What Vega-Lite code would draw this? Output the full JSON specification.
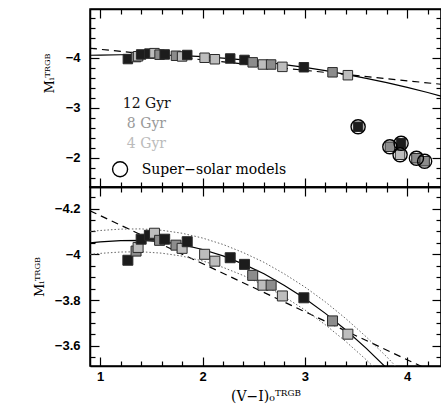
{
  "$schema": "https://vega.github.io/schema/vega-lite/v6.json",
  "padding": {"left": 32, "top": 7, "right": 0, "bottom": 0},
  "autosize": {"type": "pad"},
  "spacing": 0,
  "bounds": "flush",
  "datasets": {
    "pts": [
      {"x": 1.27, "y": -3.974, "age": "12 Gyr"},
      {"x": 1.35, "y": -4.014, "age": "8 Gyr"},
      {"x": 1.37, "y": -4.03, "age": "4 Gyr"},
      {"x": 1.40, "y": -4.066, "age": "12 Gyr"},
      {"x": 1.48, "y": -4.083, "age": "12 Gyr"},
      {"x": 1.53, "y": -4.092, "age": "4 Gyr"},
      {"x": 1.58, "y": -4.061, "age": "8 Gyr"},
      {"x": 1.63, "y": -4.066, "age": "12 Gyr"},
      {"x": 1.74, "y": -4.04, "age": "8 Gyr"},
      {"x": 1.80, "y": -4.026, "age": "4 Gyr"},
      {"x": 1.85, "y": -4.055, "age": "12 Gyr"},
      {"x": 2.02, "y": -4.0, "age": "4 Gyr"},
      {"x": 2.12, "y": -3.97, "age": "4 Gyr"},
      {"x": 2.27, "y": -3.985, "age": "12 Gyr"},
      {"x": 2.41, "y": -3.956, "age": "12 Gyr"},
      {"x": 2.49, "y": -3.908, "age": "8 Gyr"},
      {"x": 2.59, "y": -3.865, "age": "4 Gyr"},
      {"x": 2.67, "y": -3.865, "age": "8 Gyr"},
      {"x": 2.78, "y": -3.818, "age": "4 Gyr"},
      {"x": 2.99, "y": -3.81, "age": "12 Gyr"},
      {"x": 3.27, "y": -3.709, "age": "8 Gyr"},
      {"x": 3.42, "y": -3.651, "age": "4 Gyr"}
    ],
    "ss": [
      {"x": 3.52, "y": -2.62, "age": "12 Gyr"},
      {"x": 3.83, "y": -2.22, "age": "8 Gyr"},
      {"x": 3.93, "y": -2.06, "age": "4 Gyr"},
      {"x": 3.94, "y": -2.29, "age": "12 Gyr"},
      {"x": 4.09, "y": -1.99, "age": "8 Gyr"},
      {"x": 4.17, "y": -1.93, "age": "8 Gyr"}
    ],
    "dash": [
      {"x": 0.9, "y": -4.19},
      {"x": 4.33, "y": -3.47}
    ],
    "solid": [
      {"x": 0.9, "y": -4.05}, {"x": 1.0, "y": -4.054}, {"x": 1.2, "y": -4.06}, {"x": 1.4, "y": -4.061},
      {"x": 1.6, "y": -4.055}, {"x": 1.8, "y": -4.042}, {"x": 2.0, "y": -4.021}, {"x": 2.2, "y": -3.993},
      {"x": 2.4, "y": -3.957}, {"x": 2.6, "y": -3.915}, {"x": 2.8, "y": -3.864}, {"x": 3.0, "y": -3.807},
      {"x": 3.2, "y": -3.742}, {"x": 3.4, "y": -3.669}, {"x": 3.6, "y": -3.589}, {"x": 3.8, "y": -3.502},
      {"x": 4.0, "y": -3.407}, {"x": 4.2, "y": -3.305}, {"x": 4.33, "y": -3.234}
    ],
    "dotUp": [
      {"x": 0.9, "y": -4.10}, {"x": 1.0, "y": -4.104}, {"x": 1.2, "y": -4.11}, {"x": 1.4, "y": -4.111},
      {"x": 1.6, "y": -4.105}, {"x": 1.8, "y": -4.092}, {"x": 2.0, "y": -4.071}, {"x": 2.2, "y": -4.043},
      {"x": 2.4, "y": -4.007}, {"x": 2.6, "y": -3.965}, {"x": 2.8, "y": -3.914}, {"x": 3.0, "y": -3.857},
      {"x": 3.2, "y": -3.792}, {"x": 3.4, "y": -3.719}, {"x": 3.6, "y": -3.639}, {"x": 3.8, "y": -3.552},
      {"x": 4.0, "y": -3.457}, {"x": 4.2, "y": -3.355}
    ],
    "dotLo": [
      {"x": 0.9, "y": -4.00}, {"x": 1.0, "y": -4.004}, {"x": 1.2, "y": -4.01}, {"x": 1.4, "y": -4.011},
      {"x": 1.6, "y": -4.005}, {"x": 1.8, "y": -3.992}, {"x": 2.0, "y": -3.971}, {"x": 2.2, "y": -3.943},
      {"x": 2.4, "y": -3.907}, {"x": 2.6, "y": -3.865}, {"x": 2.8, "y": -3.814}, {"x": 3.0, "y": -3.757},
      {"x": 3.2, "y": -3.692}, {"x": 3.4, "y": -3.619}, {"x": 3.6, "y": -3.539}, {"x": 3.8, "y": -3.452},
      {"x": 4.0, "y": -3.357}
    ],
    "legAge": [
      {"x": 1.22, "y": -2.99, "label": "12 Gyr", "age": "12 Gyr"},
      {"x": 1.26, "y": -2.59, "label": "8 Gyr", "age": "8 Gyr"},
      {"x": 1.26, "y": -2.20, "label": "4 Gyr", "age": "4 Gyr"}
    ],
    "legSS": [
      {"cx": 1.194, "cy": -1.77, "x": 1.405, "y": -1.67, "label": "Super\u2212solar models"}
    ]
  },
  "config": {
    "view": {"stroke": "#000", "strokeWidth": 1.5},
    "axis": {
      "domainColor": "#000", "domainWidth": 1.5, "tickColor": "#000", "tickWidth": 1.2, "grid": false,
      "labelFont": "Liberation Sans", "labelFontWeight": "bold", "labelFontSize": 13, "labelColor": "#000",
      "labelOverlap": false, "labelFlush": false,
      "titleFont": "DejaVu Serif", "titleFontWeight": "normal", "titleFontSize": 13, "titleColor": "#000"
    },
    "text": {"font": "DejaVu Serif", "fontWeight": "normal", "fontSize": 14}
  },
  "vconcat": [
    {
      "width": 351, "height": 178,
      "resolve": {"axis": {"x": "independent", "y": "independent"}},
      "layer": [
        {
          "data": {"name": "dash"},
          "mark": {"type": "line", "color": "#000", "strokeWidth": 1.2, "strokeDash": [7, 5], "clip": true},
          "encoding": {
            "x": {"field": "x", "type": "quantitative", "scale": {"domain": [0.9, 4.33], "nice": false, "zero": false},
              "axis": {"orient": "bottom", "values": [1,1.2,1.4,1.6,1.8,2,2.2,2.4,2.6,2.8,3,3.2,3.4,3.6,3.8,4,4.2], "labels": false, "title": null,
                "tickSize": {"condition": {"test": "datum.value % 1 === 0", "value": -9}, "value": -5}}},
            "y": {"field": "y", "type": "quantitative", "scale": {"domain": [-4.975, -1.415], "reverse": true, "nice": false, "zero": false},
              "axis": {"orient": "left", "values": [-4.8,-4.6,-4.4,-4.2,-4,-3.8,-3.6,-3.4,-3.2,-3,-2.8,-2.6,-2.4,-2.2,-2,-1.8,-1.6],
                "labelExpr": "datum.value % 1 === 0 ? replace(format(datum.value, 'd'), '-', '\u2212') : ''",
                "tickSize": {"condition": {"test": "datum.value % 1 === 0", "value": -9}, "value": -5},
                "labelPadding": 19, "title": "M\u1d62\u1d40\u1d3f\u1d33\u1d2e", "titlePadding": 9, "titleY": 64}}
          }
        },
        {
          "data": {"name": "solid"},
          "mark": {"type": "line", "color": "#000", "strokeWidth": 1.2, "clip": true},
          "encoding": {
            "x": {"field": "x", "type": "quantitative",
              "axis": {"orient": "top", "values": [1,1.2,1.4,1.6,1.8,2,2.2,2.4,2.6,2.8,3,3.2,3.4,3.6,3.8,4,4.2], "labels": false, "title": null,
                "tickSize": {"condition": {"test": "datum.value % 1 === 0", "value": -9}, "value": -5}}},
            "y": {"field": "y", "type": "quantitative",
              "axis": {"orient": "right", "values": [-4.8,-4.6,-4.4,-4.2,-4,-3.8,-3.6,-3.4,-3.2,-3,-2.8,-2.6,-2.4,-2.2,-2,-1.8,-1.6], "labels": false, "title": null,
                "tickSize": {"condition": {"test": "datum.value % 1 === 0", "value": -9}, "value": -5}}}
          }
        },
        {
          "data": {"name": "pts"},
          "mark": {"type": "point", "shape": "square", "filled": true, "size": 90, "stroke": "#2a2a2a", "strokeWidth": 1, "opacity": 1},
          "encoding": {
            "x": {"field": "x", "type": "quantitative", "axis": null},
            "y": {"field": "y", "type": "quantitative", "axis": null},
            "fill": {"field": "age", "type": "nominal", "scale": {"domain": ["12 Gyr", "8 Gyr", "4 Gyr"], "range": ["#1c1c1c", "#8c8c8c", "#bdbdbd"]}, "legend": null}
          }
        },
        {
          "data": {"name": "ss"},
          "mark": {"type": "point", "shape": "square", "filled": true, "size": 90, "stroke": "#2a2a2a", "strokeWidth": 1, "opacity": 1},
          "encoding": {
            "x": {"field": "x", "type": "quantitative", "axis": null},
            "y": {"field": "y", "type": "quantitative", "axis": null},
            "fill": {"field": "age", "type": "nominal", "legend": null}
          }
        },
        {
          "data": {"name": "ss"},
          "mark": {"type": "point", "shape": "circle", "filled": false, "size": 200, "stroke": "#000", "strokeWidth": 1.4, "opacity": 1},
          "encoding": {
            "x": {"field": "x", "type": "quantitative", "axis": null},
            "y": {"field": "y", "type": "quantitative", "axis": null}
          }
        },
        {
          "data": {"name": "legAge"},
          "mark": {"type": "text", "align": "left", "baseline": "alphabetic"},
          "encoding": {
            "x": {"field": "x", "type": "quantitative", "axis": null},
            "y": {"field": "y", "type": "quantitative", "axis": null},
            "text": {"field": "label"},
            "color": {"field": "age", "type": "nominal", "scale": {"domain": ["12 Gyr", "8 Gyr", "4 Gyr"], "range": ["#111111", "#999999", "#bbbbbb"]}, "legend": null}
          }
        },
        {
          "data": {"name": "legSS"},
          "mark": {"type": "text", "align": "left", "baseline": "alphabetic", "color": "#000"},
          "encoding": {
            "x": {"field": "x", "type": "quantitative", "axis": null},
            "y": {"field": "y", "type": "quantitative", "axis": null},
            "text": {"field": "label"}
          }
        },
        {
          "data": {"name": "legSS"},
          "mark": {"type": "point", "shape": "circle", "filled": false, "size": 225, "stroke": "#000", "strokeWidth": 1.4, "opacity": 1},
          "encoding": {
            "x": {"field": "cx", "type": "quantitative", "axis": null},
            "y": {"field": "cy", "type": "quantitative", "axis": null}
          }
        }
      ]
    },
    {
      "width": 351, "height": 179,
      "resolve": {"axis": {"x": "independent", "y": "independent"}},
      "layer": [
        {
          "data": {"name": "dash"},
          "mark": {"type": "line", "color": "#000", "strokeWidth": 1.2, "strokeDash": [7, 5], "clip": true},
          "encoding": {
            "x": {"field": "x", "type": "quantitative", "scale": {"domain": [0.9, 4.33], "nice": false, "zero": false},
              "axis": {"orient": "bottom", "values": [1,1.2,1.4,1.6,1.8,2,2.2,2.4,2.6,2.8,3,3.2,3.4,3.6,3.8,4,4.2],
                "labelExpr": "datum.value % 1 === 0 ? format(datum.value, 'd') : ''",
                "tickSize": {"condition": {"test": "datum.value % 1 === 0", "value": -9}, "value": -5},
                "labelPadding": 13, "title": "(V\u2212I)\u2080\u1d40\u1d3f\u1d33\u1d2e", "titlePadding": 2, "titleFontSize": 14}},
            "y": {"field": "y", "type": "quantitative", "scale": {"domain": [-4.294, -3.512], "reverse": true, "nice": false, "zero": false},
              "axis": {"orient": "left", "values": [-4.25,-4.2,-4.15,-4.1,-4.05,-4,-3.95,-3.9,-3.85,-3.8,-3.75,-3.7,-3.65,-3.6,-3.55],
                "labelExpr": "abs(round(datum.value * 100)) % 20 === 0 ? replace(format(datum.value, '~g'), '-', '\u2212') : ''",
                "tickSize": {"condition": {"test": "abs(round(datum.value * 100)) % 20 === 0", "value": -9}, "value": -5},
                "labelPadding": 19, "title": "M\u1d62\u1d40\u1d3f\u1d33\u1d2e", "titlePadding": 8}}
          }
        },
        {
          "data": {"name": "solid"},
          "mark": {"type": "line", "color": "#000", "strokeWidth": 1.2, "clip": true},
          "encoding": {
            "x": {"field": "x", "type": "quantitative",
              "axis": {"orient": "top", "values": [1,1.2,1.4,1.6,1.8,2,2.2,2.4,2.6,2.8,3,3.2,3.4,3.6,3.8,4,4.2], "labels": false, "title": null,
                "tickSize": {"condition": {"test": "datum.value % 1 === 0", "value": -9}, "value": -5}}},
            "y": {"field": "y", "type": "quantitative",
              "axis": {"orient": "right", "values": [-4.25,-4.2,-4.15,-4.1,-4.05,-4,-3.95,-3.9,-3.85,-3.8,-3.75,-3.7,-3.65,-3.6,-3.55], "labels": false, "title": null,
                "tickSize": {"condition": {"test": "abs(round(datum.value * 100)) % 20 === 0", "value": -9}, "value": -5}}}
          }
        },
        {
          "data": {"name": "dotUp"},
          "mark": {"type": "line", "color": "#666", "strokeWidth": 1, "strokeDash": [1.5, 2], "clip": true},
          "encoding": {
            "x": {"field": "x", "type": "quantitative", "axis": null},
            "y": {"field": "y", "type": "quantitative", "axis": null}
          }
        },
        {
          "data": {"name": "dotLo"},
          "mark": {"type": "line", "color": "#666", "strokeWidth": 1, "strokeDash": [1.5, 2], "clip": true},
          "encoding": {
            "x": {"field": "x", "type": "quantitative", "axis": null},
            "y": {"field": "y", "type": "quantitative", "axis": null}
          }
        },
        {
          "data": {"name": "pts"},
          "mark": {"type": "point", "shape": "square", "filled": true, "size": 100, "stroke": "#2a2a2a", "strokeWidth": 1, "opacity": 1, "clip": true},
          "encoding": {
            "x": {"field": "x", "type": "quantitative", "axis": null},
            "y": {"field": "y", "type": "quantitative", "axis": null},
            "fill": {"field": "age", "type": "nominal", "scale": {"domain": ["12 Gyr", "8 Gyr", "4 Gyr"], "range": ["#1c1c1c", "#8c8c8c", "#bdbdbd"]}, "legend": null}
          }
        }
      ]
    }
  ]
}
